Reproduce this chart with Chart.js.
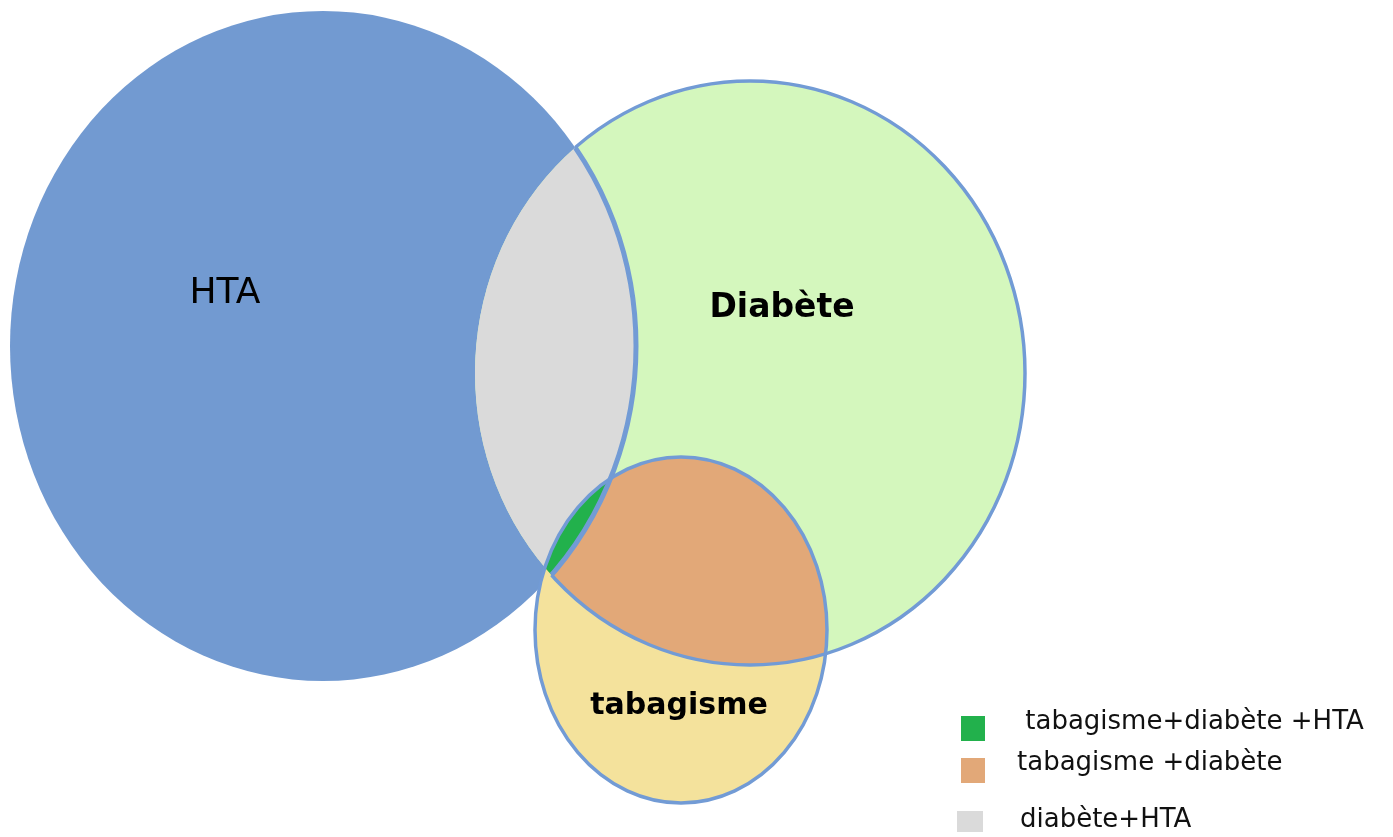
<!DOCTYPE html>
<html lang="fr">
<head>
<meta charset="utf-8">
<script src="https://cdn.jsdelivr.net/npm/chart.js@4/dist/chart.umd.min.js"></script>
<style>
  body { margin: 0; background: #fff; }
  #boite { width: 1393px; height: 837px; }
</style>
</head>
<body>
<div id="boite"><canvas id="venn"></canvas></div>
<script>
// Ensembles : centre et demi-axes dans le repère (y vers le bas)
const ensembles = ['HTA', 'Diabète', 'tabagisme'];
const centreX = [323, 750, 681];
const centreY = [346, 373, 630];
const rayonX = [313, 275, 146];
const rayonY = [335, 292, 173];

// Intersections affichées dans la légende
const intersections = [' tabagisme+diabète +HTA', 'tabagisme +diabète', 'diabète+HTA'];

// Styles
const remplissage = ['#729ad1', '#d4f7bd', '#f4e29c'];
const couleurInter = ['#22b14c', '#e2a878', '#dadada'];
const trait = '#729bd5';

function ellipse(ctx, sx, sy, i) {
    let cx = sx.getPixelForValue(centreX[i]);
    let cy = sy.getPixelForValue(centreY[i]);
    let rx = Math.abs(sx.getPixelForValue(centreX[i] + rayonX[i]) - cx);
    let ry = Math.abs(sy.getPixelForValue(centreY[i] + rayonY[i]) - cy);
    ctx.beginPath();
    ctx.ellipse(cx, cy, rx, ry, 0, 0, Math.PI * 2);
}

const dessinVenn = {
    id: 'dessinVenn',
    beforeDatasetsDraw(chart) {
        let ctx = chart.ctx;
        let sx = chart.scales.x;
        let sy = chart.scales.y;
        let W = chart.width, H = chart.height;

        ctx.save();
        // HTA et Diabète
        ellipse(ctx, sx, sy, 0); ctx.fillStyle = remplissage[0]; ctx.fill();
        ellipse(ctx, sx, sy, 1); ctx.fillStyle = remplissage[1]; ctx.fill();
        // diabète+HTA
        ctx.save();
        ellipse(ctx, sx, sy, 0); ctx.clip();
        ellipse(ctx, sx, sy, 1); ctx.fillStyle = couleurInter[2]; ctx.fill();
        ctx.restore();
        // tabagisme
        ellipse(ctx, sx, sy, 2); ctx.fillStyle = remplissage[2]; ctx.fill();
        ctx.save();
        ellipse(ctx, sx, sy, 1); ctx.clip();
        ellipse(ctx, sx, sy, 2); ctx.fillStyle = couleurInter[1]; ctx.fill();
        ellipse(ctx, sx, sy, 0); ctx.clip();
        ellipse(ctx, sx, sy, 2); ctx.fillStyle = couleurInter[0]; ctx.fill();
        ctx.restore();

        // contours
        ctx.strokeStyle = trait;
        ctx.lineWidth = 3.5;
        ctx.save();
        ctx.beginPath();
        ctx.rect(0, 0, W, H);
        let cx = sx.getPixelForValue(centreX[0]), cy = sy.getPixelForValue(centreY[0]);
        ctx.ellipse(cx, cy, Math.abs(sx.getPixelForValue(centreX[0] + rayonX[0]) - cx),
            Math.abs(sy.getPixelForValue(centreY[0] + rayonY[0]) - cy), 0, 0, Math.PI * 2);
        ctx.clip('evenodd');
        ellipse(ctx, sx, sy, 1); ctx.stroke();
        ctx.restore();
        ctx.save();
        ellipse(ctx, sx, sy, 1); ctx.clip();
        ctx.lineWidth = 5;
        ellipse(ctx, sx, sy, 0); ctx.stroke();
        ctx.restore();
        ellipse(ctx, sx, sy, 2); ctx.stroke();

        // noms des ensembles
        ctx.fillStyle = '#000';
        ctx.textAlign = 'center';
        ctx.textBaseline = 'alphabetic';
        let polices = ['36px "DejaVu Sans"', 'bold 33px "DejaVu Sans"', 'bold 30px "DejaVu Sans"'];
        let nomX = [225, 782, 679];
        let nomY = [303, 317, 714];
        for (let i = 0; i < ensembles.length; i++) {
            ctx.font = polices[i];
            ctx.fillText(ensembles[i], nomX[i], nomY[i]);
        }

        // légende
        let carres = [[961, 716, 24, 25], [961, 758, 24, 25], [957, 811, 26, 21]];
        let texteX = [1017, 1017, 1020];
        let texteY = [729, 770, 827];
        ctx.textAlign = 'left';
        ctx.font = '26px "DejaVu Sans"';
        for (let i = 0; i < intersections.length; i++) {
            ctx.fillStyle = couleurInter[i];
            ctx.fillRect(carres[i][0], carres[i][1], carres[i][2], carres[i][3]);
            ctx.fillStyle = '#111';
            ctx.fillText(intersections[i], texteX[i], texteY[i]);
        }
        ctx.restore();
    }
};

new Chart(document.getElementById('venn'), {
    type: 'scatter',
    data: {
        datasets: [{
            label: 'centres',
            data: centreX.map((x, i) => ({ x: x, y: centreY[i] })),
            pointRadius: 0
        }]
    },
    options: {
        responsive: true,
        maintainAspectRatio: false,
        animation: false,
        events: [],
        layout: { padding: 0 },
        plugins: {
            legend: { display: false },
            tooltip: { enabled: false }
        },
        scales: {
            x: { display: false, min: 0, max: 1393 },
            y: { display: false, min: 0, max: 837, reverse: true }
        }
    },
    plugins: [dessinVenn]
});
</script>
</body>
</html>
